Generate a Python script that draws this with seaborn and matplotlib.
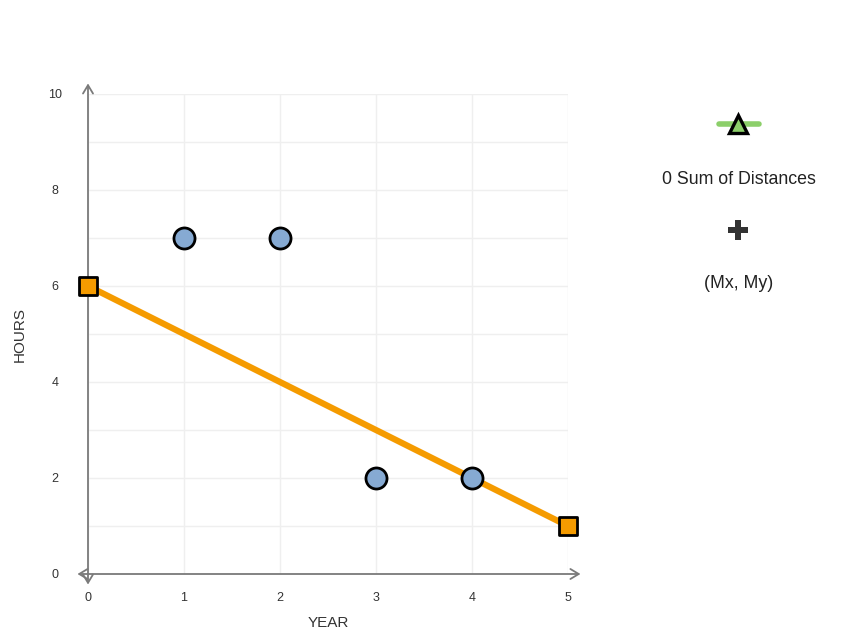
import matplotlib
matplotlib.use("Agg")
import matplotlib.pyplot as plt
import seaborn as sns
import pandas as pd

# Data
point_years = [1, 2, 3, 4]
point_hours = [7, 7, 2, 2]
line_years = [0, 5]
line_hours = [6, 1]
x_ticks = [0, 1, 2, 3, 4, 5]
y_ticks = [0, 2, 4, 6, 8, 10]
legend_labels = ["0 Sum of Distances", "(Mx, My)"]

sns.set_theme(style="white")
plt.rcParams['font.family'] = ['Liberation Sans', 'DejaVu Sans']

W, H = 861, 641
fig = plt.figure(figsize=(W / 100, H / 100), dpi=100)
ax = fig.add_axes([88 / W, (H - 574) / H, 480 / W, 480 / H])

ax.set_xlim(0, 5)
ax.set_ylim(0, 10)

# grid
for xv in x_ticks:
    ax.axvline(xv, color="#efefef", lw=1, zorder=0)
for yv in range(0, 11):
    ax.axhline(yv, color="#efefef", lw=1, zorder=0)

for s in ax.spines.values():
    s.set_visible(False)

# axes with arrows
axis_col = "#7a7a7a"
ax.annotate("", xy=(0, 10.22), xytext=(0, -0.22), xycoords="data",
            arrowprops=dict(arrowstyle="<->,head_length=0.5,head_width=0.3",
                            color=axis_col, lw=1.3, shrinkA=0, shrinkB=0),
            annotation_clip=False, zorder=2)
ax.annotate("", xy=(5.13, 0), xytext=(-0.11, 0), xycoords="data",
            arrowprops=dict(arrowstyle="<->,head_length=0.5,head_width=0.3",
                            color=axis_col, lw=1.3, shrinkA=0, shrinkB=0),
            annotation_clip=False, zorder=2)

# line
df_line = pd.DataFrame({"YEAR": line_years, "HOURS": line_hours})
sns.lineplot(data=df_line, x="YEAR", y="HOURS", ax=ax, color="#f59b00",
             lw=4.5, zorder=3)
ax.scatter(line_years, line_hours, marker="s", s=150, color="#f59b00",
           edgecolor="black", linewidth=2, zorder=5, clip_on=False)

# points
df_pts = pd.DataFrame({"YEAR": point_years, "HOURS": point_hours})
sns.scatterplot(data=df_pts, x="YEAR", y="HOURS", ax=ax, s=230,
                color="#86aad3", edgecolor="black", linewidth=2, zorder=6)

ax.set_xticks(x_ticks)
ax.set_yticks(y_ticks)
ax.set_xticklabels([str(v) for v in x_ticks], fontsize=9, color="#333333")
ax.set_yticklabels([str(v) for v in y_ticks], fontsize=9, color="#333333")
ax.tick_params(axis="x", length=0, pad=13)
ax.tick_params(axis="y", length=0, pad=23.8)
for lbl in ax.get_yticklabels():
    lbl.set_horizontalalignment("center")

ax.set_xlabel("YEAR", fontsize=11, color="#333333")
ax.set_ylabel("HOURS", fontsize=11, color="#333333")
ax.xaxis.set_label_coords(0.5, -0.087)
ax.yaxis.set_label_coords(-0.127, 0.5)

# legend area (figure pixel coords)
def fx(px):
    return px / W

def fy(py):
    return 1 - py / H

fig.add_artist(plt.Line2D([fx(719), fx(759)], [fy(124), fy(124)],
                          color="#8ccf6a", lw=4, transform=fig.transFigure))
fig.add_artist(plt.Line2D([fx(738)], [fy(124)], marker="^", markersize=13,
                          markerfacecolor="#8ccf6a", markeredgecolor="black",
                          markeredgewidth=2.4, transform=fig.transFigure))
fig.text(fx(739), fy(179), legend_labels[0], ha="center", va="center",
         fontsize=12.8, color="#222222")
fig.add_artist(plt.Line2D([fx(738)], [fy(230)], marker="P", markersize=14,
                          markerfacecolor="#333333", markeredgecolor="#333333",
                          markeredgewidth=0, transform=fig.transFigure))
fig.text(fx(739), fy(284), legend_labels[1], ha="center", va="center",
         fontsize=12.8, color="#222222")

fig.savefig("out.png", dpi=100, facecolor="white")
